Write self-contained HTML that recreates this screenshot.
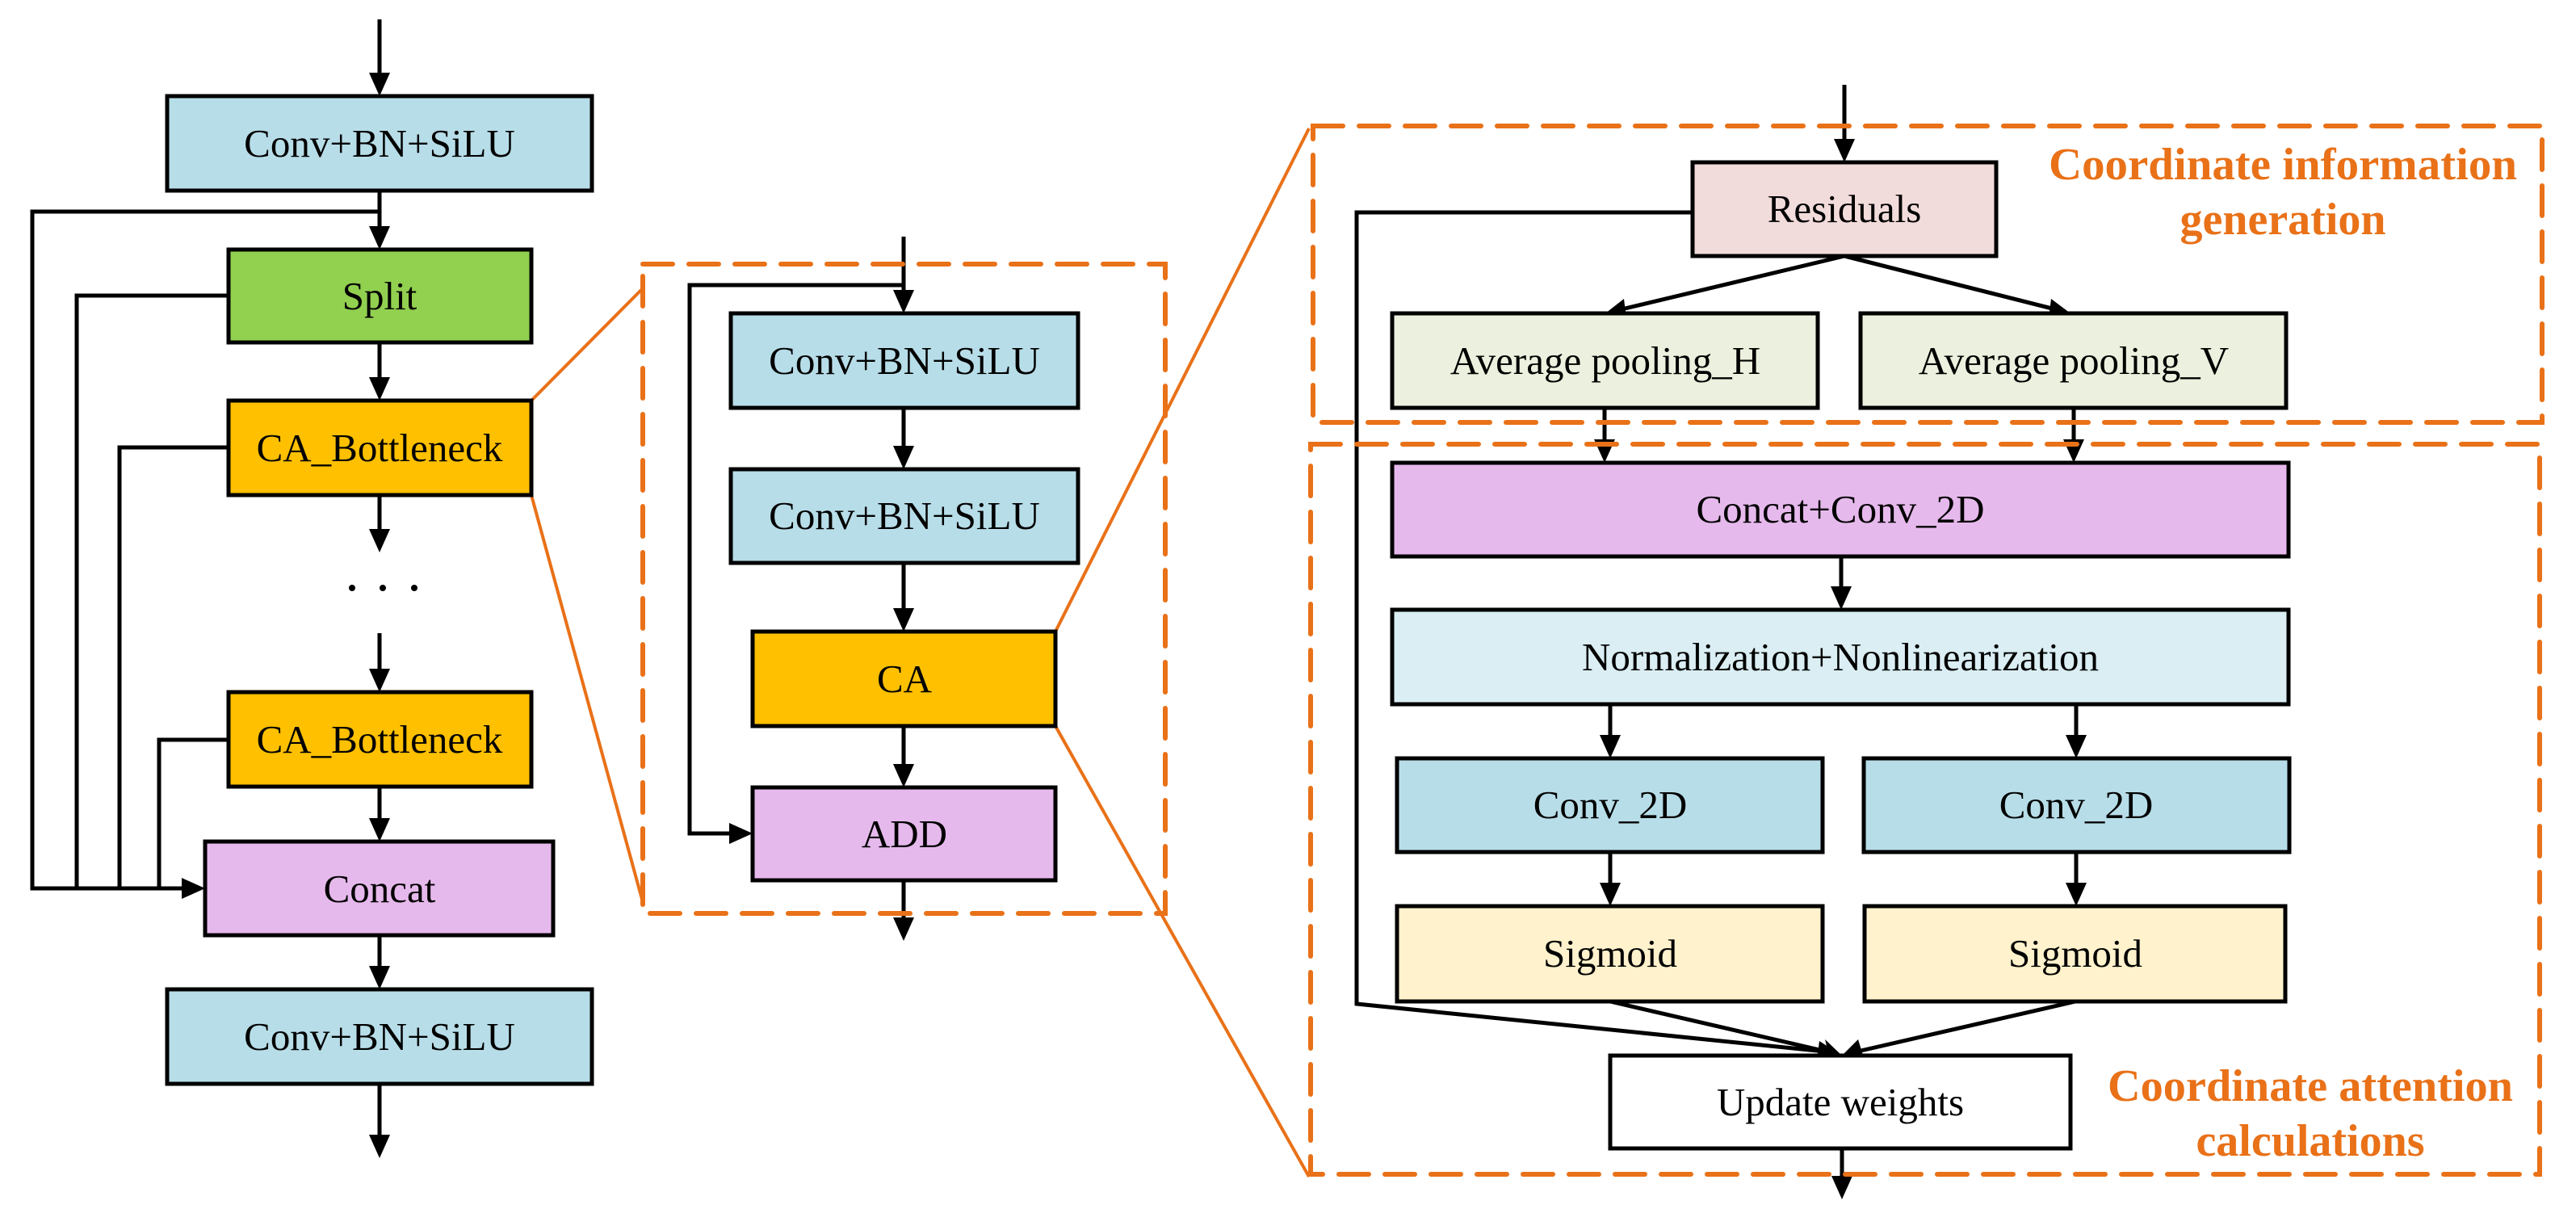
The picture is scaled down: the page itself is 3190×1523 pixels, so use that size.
<!DOCTYPE html>
<html><head><meta charset="utf-8"><style>
html,body{margin:0;padding:0;background:#fff;}
svg{display:block;}
text{font-family:"Liberation Serif",serif;font-size:49px;fill:#000;text-anchor:middle;}
.o{font-weight:bold;fill:#e97118;font-size:56px;}
</style></head><body>
<svg width="3190" height="1523" viewBox="0 0 3190 1523" xmlns="http://www.w3.org/2000/svg">
<g stroke="#000" stroke-width="5" fill="none">
<line x1="470" y1="24" x2="470" y2="96"/>
<line x1="470" y1="236" x2="470" y2="286"/>
<polyline points="470,262 40,262 40,1100 232,1100"/>
<polyline points="283,366 95,366 95,1100"/>
<polyline points="283,554 148,554 148,1100"/>
<polyline points="283,916 197,916 197,1100"/>
<line x1="470" y1="424" x2="470" y2="474"/>
<line x1="470" y1="613" x2="470" y2="662"/>
<line x1="470" y1="784" x2="470" y2="835"/>
<line x1="470" y1="974" x2="470" y2="1020"/>
<line x1="470" y1="1158" x2="470" y2="1203"/>
<line x1="470" y1="1342" x2="470" y2="1412"/>
<line x1="1119" y1="293" x2="1119" y2="366"/>
<polyline points="1119,353 854,353 854,1032 910,1032"/>
<line x1="1119" y1="505" x2="1119" y2="559"/>
<line x1="1119" y1="697" x2="1119" y2="760"/>
<line x1="1119" y1="899" x2="1119" y2="953"/>
<line x1="1119" y1="1090" x2="1119" y2="1143"/>
<line x1="2284" y1="105" x2="2284" y2="179"/>
<polyline points="2096,263 1680,263 1680,1243 2260,1302"/>
<line x1="2284" y1="317" x2="2008" y2="383"/>
<line x1="2284" y1="317" x2="2545" y2="383"/>
<line x1="1987" y1="505" x2="1987" y2="551"/>
<line x1="2568" y1="505" x2="2568" y2="551"/>
<line x1="2280" y1="689" x2="2280" y2="733"/>
<line x1="1994" y1="872" x2="1994" y2="917"/>
<line x1="2571" y1="872" x2="2571" y2="917"/>
<line x1="1994" y1="1055" x2="1994" y2="1100"/>
<line x1="2571" y1="1055" x2="2571" y2="1100"/>
<line x1="1994" y1="1240" x2="2262" y2="1302"/>
<line x1="2570" y1="1240" x2="2300" y2="1302"/>
<line x1="2281" y1="1422" x2="2281" y2="1465"/>
</g>
<g fill="#000">
<polygon points="457,90 483,90 470,119"/>
<polygon points="457,280 483,280 470,309"/>
<polygon points="457,467 483,467 470,496"/>
<polygon points="457,655 483,655 470,684"/>
<polygon points="457,828 483,828 470,857"/>
<polygon points="457,1013 483,1013 470,1042"/>
<polygon points="457,1196 483,1196 470,1225"/>
<polygon points="457,1405 483,1405 470,1434"/>
<polygon points="225,1087 225,1113 254,1100"/>
<polygon points="1106,359 1132,359 1119,388"/>
<polygon points="1106,552 1132,552 1119,581"/>
<polygon points="1106,753 1132,753 1119,782"/>
<polygon points="1106,946 1132,946 1119,975"/>
<polygon points="1106,1136 1132,1136 1119,1165"/>
<polygon points="903,1019 903,1045 932,1032"/>
<polygon points="2271,172 2297,172 2284,201"/>
<polygon points="1974,544 2000,544 1987,573"/>
<polygon points="2555,544 2581,544 2568,573"/>
<polygon points="2267,726 2293,726 2280,755"/>
<polygon points="1981,910 2007,910 1994,939"/>
<polygon points="2558,910 2584,910 2571,939"/>
<polygon points="1981,1093 2007,1093 1994,1122"/>
<polygon points="2558,1093 2584,1093 2571,1122"/>
<polygon points="2268,1456 2294,1456 2281,1485"/>
<polygon points="1988,388 2011,370 2014,395"/>
<polygon points="2564,388 2540,370 2537,395"/>
<polygon points="2281,1307 2253,1289 2250,1312"/>
<polygon points="2281,1307 2260,1287 2266,1311"/>
<polygon points="2281,1307 2301,1287 2308,1310"/>
</g>
<g stroke="#e97118" fill="none">
<line x1="658" y1="496" x2="796" y2="357" stroke-width="4"/>
<line x1="658" y1="613" x2="796" y2="1117" stroke-width="4"/>
<line x1="1307" y1="782" x2="1621" y2="159" stroke-width="4"/>
<line x1="1307" y1="899" x2="1621" y2="1457" stroke-width="4"/>
<g stroke-width="6" stroke-dasharray="37,20" stroke-linecap="round">
<rect x="796" y="327" width="647" height="804"/>
<rect x="1626" y="156" width="1522" height="367"/>
<rect x="1623" y="550" width="1522" height="904"/>
</g>
</g>
<g stroke="#000" stroke-width="5">
<rect x="207" y="119" width="526" height="117" fill="#b7dde8"/>
<rect x="283" y="309" width="375" height="115" fill="#92d050"/>
<rect x="283" y="496" width="375" height="117" fill="#ffc000"/>
<rect x="283" y="857" width="375" height="117" fill="#ffc000"/>
<rect x="254" y="1042" width="431" height="116" fill="#e6b9ec"/>
<rect x="207" y="1225" width="526" height="117" fill="#b7dde8"/>
<rect x="905" y="388" width="430" height="117" fill="#b7dde8"/>
<rect x="905" y="581" width="430" height="116" fill="#b7dde8"/>
<rect x="932" y="782" width="375" height="117" fill="#ffc000"/>
<rect x="932" y="975" width="375" height="115" fill="#e6b9ec"/>
<rect x="2096" y="201" width="376" height="116" fill="#f2dcdb"/>
<rect x="1724" y="388" width="527" height="117" fill="#ebf1de"/>
<rect x="2304" y="388" width="527" height="117" fill="#ebf1de"/>
<rect x="1724" y="573" width="1110" height="116" fill="#e6b9ec"/>
<rect x="1724" y="755" width="1110" height="117" fill="#daeef3"/>
<rect x="1730" y="939" width="527" height="116" fill="#b7dde8"/>
<rect x="2308" y="939" width="527" height="116" fill="#b7dde8"/>
<rect x="1730" y="1122" width="527" height="118" fill="#fff2cc"/>
<rect x="2309" y="1122" width="521" height="118" fill="#fff2cc"/>
<rect x="1994" y="1307" width="570" height="115" fill="#fff"/>
</g>
<g fill="#000">
<circle cx="436" cy="728" r="4"/><circle cx="474" cy="728" r="4"/><circle cx="513" cy="728" r="4"/>
</g>
<text x="470" y="194">Conv+BN+SiLU</text>
<text x="470" y="383">Split</text>
<text x="470" y="571">CA_Bottleneck</text>
<text x="470" y="932">CA_Bottleneck</text>
<text x="470" y="1117">Concat</text>
<text x="470" y="1300">Conv+BN+SiLU</text>
<text x="1120" y="463">Conv+BN+SiLU</text>
<text x="1120" y="655">Conv+BN+SiLU</text>
<text x="1120" y="857">CA</text>
<text x="1120" y="1049">ADD</text>
<text x="2284" y="275">Residuals</text>
<text x="1988" y="463">Average pooling_H</text>
<text x="2568" y="463">Average pooling_V</text>
<text x="2279" y="647">Concat+Conv_2D</text>
<text x="2279" y="830">Normalization+Nonlinearization</text>
<text x="1994" y="1013">Conv_2D</text>
<text x="2571" y="1013">Conv_2D</text>
<text x="1994" y="1197">Sigmoid</text>
<text x="2570" y="1197">Sigmoid</text>
<text x="2279" y="1381">Update weights</text>
<text class="o" x="2827" y="222" textLength="580" lengthAdjust="spacingAndGlyphs">Coordinate information</text>
<text class="o" x="2827" y="290">generation</text>
<text class="o" x="2861" y="1363" textLength="502" lengthAdjust="spacingAndGlyphs">Coordinate attention</text>
<text class="o" x="2861" y="1431">calculations</text>
</svg>
</body></html>
